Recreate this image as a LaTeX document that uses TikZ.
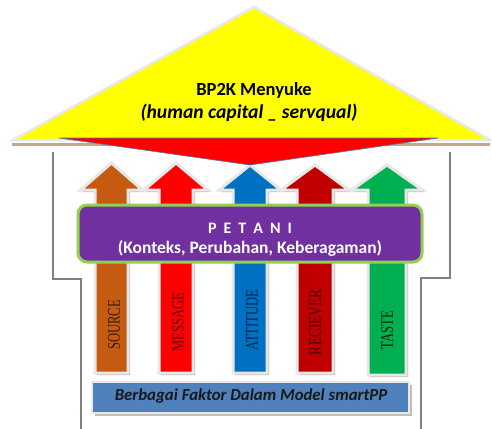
\documentclass[tikz,border=0pt]{standalone}
\usepackage{fontspec}
\setmainfont{Carlito}
\newfontfamily\serifvert{Liberation Serif}
\definecolor{roofyellow}{HTML}{FFFF00}
\definecolor{roofred}{HTML}{FF0000}
\definecolor{edgeblue}{HTML}{4A7AB0}
\definecolor{tanline}{HTML}{C9A48A}
\definecolor{houseg}{HTML}{808080}
\definecolor{glowg}{HTML}{E8E8E8}
\definecolor{shadowc}{HTML}{B8A09A}
\definecolor{boxshadow}{HTML}{BFBFBF}
\definecolor{cbrown}{HTML}{C55A11}
\definecolor{cred}{HTML}{FF0000}
\definecolor{cblue}{HTML}{0070C0}
\definecolor{cdred}{HTML}{C00000}
\definecolor{cgreen}{HTML}{00B050}
\definecolor{purplebox}{HTML}{7030A0}
\definecolor{greenedge}{HTML}{92D050}
\definecolor{bluebox}{HTML}{4F81BD}
\definecolor{tbrown}{HTML}{3A1E05}
\definecolor{tred}{HTML}{5A0000}
\definecolor{tblue}{HTML}{00264F}
\definecolor{tdred}{HTML}{4A0000}
\definecolor{tgreen}{HTML}{00200C}
\tikzset{
  houseline/.style={draw=houseg,line width=2.5pt},
  arrowglow/.style={draw=glowg,line width=3pt,line join=miter},
  arrowshadow/.style={fill=shadowc},
  vlabel/.style={rotate=90,inner sep=0pt,font=\serifvert\fontsize{18}{18}\selectfont},
}
% upward arrow: #1 cx, #2 shaft half width, #3 head half width, #4 apex y, #5 base y, #6 bottom y
\newcommand{\uparrowshape}[6]{(#1-#2,#6) -- (#1-#2,#5) -- (#1-#3,#5) -- (#1,#4) -- (#1+#3,#5) -- (#1+#2,#5) -- (#1+#2,#6) -- cycle}
\newcommand{\drawuparrow}[7]{%
  \path[arrowshadow,shift={(2,2)}] \uparrowshape{#2}{#3}{#4}{#5}{#6}{#7};
  \path[arrowglow,fill=#1] \uparrowshape{#2}{#3}{#4}{#5}{#6}{#7};
}
\begin{document}
\begin{tikzpicture}[x=1pt,y=-1pt]
\useasboundingbox[fill=white] (0,0) rectangle (492,428);
% house walls
\draw[houseline] (53,152) -- (53,279) -- (81,279) -- (81,430);
\draw[houseline] (450,152) -- (450,278) -- (421,278) -- (421,430);
% arrows
\drawuparrow{cbrown}{111.5}{16.5}{31}{163}{190}{373}
\drawuparrow{cred}{176}{17}{32}{163}{190}{373}
\drawuparrow{cblue}{250}{17}{31}{165}{190}{373}
\drawuparrow{cdred}{315}{18}{34}{165}{190}{373}
\drawuparrow{cgreen}{387}{19}{35.5}{165}{190}{375}
% vertical labels
\node[vlabel,text=tbrown] (lsource) at (114,325) {\scalebox{0.7}[1]{SOURCE}};
\node[vlabel,text=tred] (lmessage) at (178,322) {\scalebox{0.7}[1]{MESSAGE}};
\node[vlabel,text=tblue] (lattitude) at (252,320) {\scalebox{0.7}[1]{ATTITUDE}};
\node[vlabel,text=tdred] (lreciever) at (315,322) {\scalebox{0.75}[1]{RECIEVER}};
\node[vlabel,text=tgreen] (ltaste) at (387,330) {\scalebox{0.7}[1]{TASTE}};
% roof
\draw[tanline,line width=2.5pt] (12,144.5) -- (490,144.5);
\path[draw=glowg,line width=2.5pt,fill=roofyellow,line join=miter] (13,140) -- (254,7) -- (490,140) -- cycle;
\path[draw=edgeblue,line width=0.6pt,fill=roofred] (59,138) -- (438,138) -- (250,165) -- cycle;
\node[font=\bfseries\fontsize{18.5}{20}\selectfont,inner sep=0pt] (roof1) at (254,90) {BP2K Menyuke};
\node[font=\bfseries\itshape\fontsize{19.6}{22}\selectfont,inner sep=0pt] (roof2) at (249,113) {(human capital \_ servqual)};
% petani box
\node[draw=greenedge,line width=3pt,fill=purplebox,rounded corners=9pt,minimum width=344pt,minimum height=57pt,inner sep=0pt] (petani) at (250,233.5) {};
\node[font=\bfseries\fontsize{16}{18}\selectfont,text=white,inner sep=0pt] (petani1) at (250,228) {P\hspace{0.44em}E\hspace{0.44em}T\hspace{0.44em}A\hspace{0.44em}N\hspace{0.44em}I};
\node[font=\bfseries\fontsize{17.5}{20}\selectfont,text=white,inner sep=0pt] (petani2) at (250,248) {(Konteks, Perubahan, Keberagaman)};
% bottom box
\fill[boxshadow] (95,385) rectangle (412,416);
\node[draw=glowg,line width=1.5pt,fill=bluebox,minimum width=317pt,minimum height=31pt,inner sep=0pt] (faktor) at (250.5,397.5) {};
\node[font=\bfseries\itshape\fontsize{16.8}{18}\selectfont,text=black!90,inner sep=0pt] (faktortext) at (251,396) {Berbagai Faktor Dalam Model smartPP};
\end{tikzpicture}
\end{document}
